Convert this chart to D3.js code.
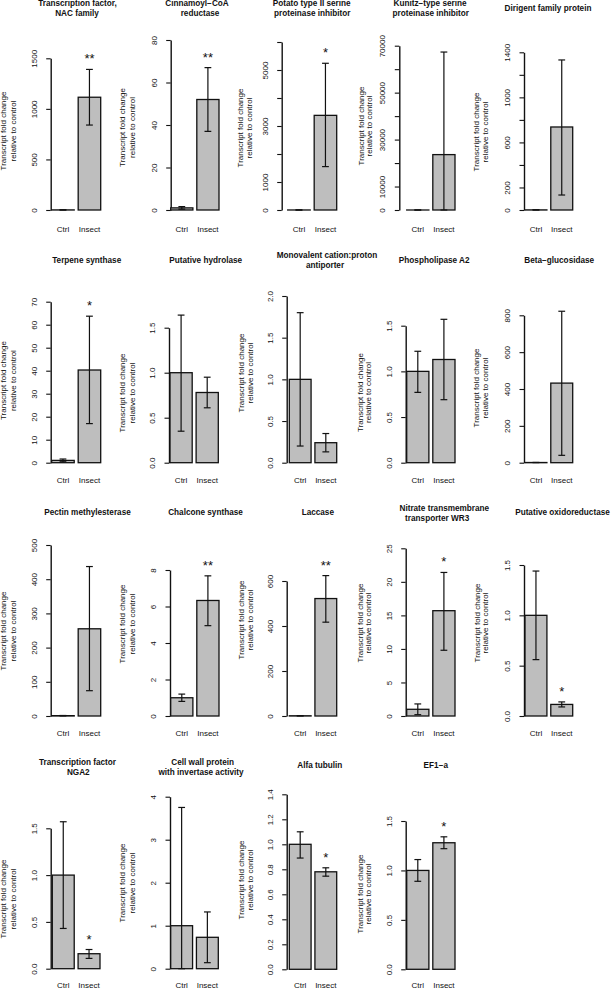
<!DOCTYPE html>
<html>
<head>
<meta charset="utf-8">
<script src="https://cdn.jsdelivr.net/npm/d3@7"></script>
<style>
  html, body { margin: 0; padding: 0; background: #fff; }
  svg { display: block; }
  text { font-family: "Liberation Sans", Arial, Helvetica, sans-serif; fill: #111; }
</style>
</head>
<body>
<svg id="chart" width="611" height="989"></svg>
<script>
// ---------------- DATA ----------------
const groups = ["Ctrl", "Insect"];
const titles = [
  ["Transcription factor,", "NAC family"],
  ["Cinnamoyl\u2212CoA", "reductase"],
  ["Potato type II serine", "proteinase inhibitor"],
  ["Kunitz\u2212type serine", "proteinase inhibitor"],
  ["Dirigent family protein"],
  ["Terpene synthase"],
  ["Putative hydrolase"],
  ["Monovalent cation:proton", "antiporter"],
  ["Phospholipase A2"],
  ["Beta\u2212glucosidase"],
  ["Pectin methylesterase"],
  ["Chalcone synthase"],
  ["Laccase"],
  ["Nitrate transmembrane", "transporter WR3"],
  ["Putative oxidoreductase"],
  ["Transcription factor", "NGA2"],
  ["Cell wall protein", "with invertase activity"],
  ["Alfa tubulin"],
  ["EF1\u2212a"]
];
const ctrlMean = [1, 1, 1, 1, 1, 1, 1, 1, 1, 1, 1, 1, 1, 1, 1, 1, 1, 1, 1];
const ctrlLow  = [0.5, 0.4, 0.5, 0.5, 0.5, 0.4, 0.35, 0.2, 0.77, 0.5, 0.5, 0.8, 0.5, 0.2, 0.56, 0.43, 0, 0.89, 0.89];
const ctrlHigh = [1.5, 1.6, 1.5, 1.5, 1.5, 1.6, 1.64, 1.8, 1.22, 1.5, 1.5, 1.2, 1.5, 1.8, 1.44, 1.57, 3.75, 1.1, 1.11];
const insMean  = [1115, 52, 3380, 23600, 737, 40.3, 0.78, 0.24, 1.13, 432, 255, 6.33, 522, 15.7, 0.115, 0.16, 0.73, 0.78, 1.28];
const insLow   = [840, 37, 1550, 0, 133, 17, 0.61, 0.13, 0.69, 40, 74, 4.95, 417, 9.8, 0.09, 0.11, 0.14, 0.745, 1.22];
const insHigh  = [1390, 67, 5240, 67300, 1332, 63.7, 0.95, 0.35, 1.57, 822, 437, 7.68, 624, 21.4, 0.14, 0.205, 1.32, 0.812, 1.34];
const signif   = ["**", "**", "*", "", "", "*", "", "", "", "", "", "**", "**", "*", "*", "*", "", "*", "*"];
const axisMax  = [1500, 80, 6000, 70000, 1400, 70, 1.5, 2.0, 1.5, 800, 500, 8, 600, 25, 1.5, 1.5, 4, 1.4, 1.5];
const axisStep = [500, 20, 1000, 10000, 200, 10, 0.5, 0.5, 0.5, 200, 100, 2, 200, 5, 0.5, 0.5, 1, 0.2, 0.5];
// tick labels that are printed (null = every tick labelled)
const printedTicks = [null, null, [0, 1000, 3000, 5000], [0, 10000, 30000, 50000, 70000],
  [0, 200, 600, 1000, 1400], null, null, null, null, null, null, null, null, null, null, null, null, null, null];
const yLabel = ["Transcript fold change", "relative to control"];

// ---------------- LAYOUT (pixel positions per panel) ----------------
const axisX    = [50.7, 170.7, 281.7, 399.3, 524, 50.7, 169, 286.7, 405.7, 524, 50.7, 170, 286.7, 405.7, 524, 50.7, 170, 286.7, 405.7];
const baseY    = [210, 210, 210, 210, 210, 462.7, 462.7, 462.7, 462.7, 462.7, 716, 716, 716, 716, 716, 968.7, 968.7, 969.3, 969.3];
const topY     = [58.3, 40, 42, 45.7, 52.3, 301.7, 327.7, 296, 325.7, 315.3, 545, 570, 581, 548.3, 565, 828.3, 796.7, 794.3, 821];
const barLeft  = [51.7, 170.7, 287.7, 406.7, 525, 51.7, 170, 289.3, 406.7, 525, 51.7, 170.7, 289.3, 406.7, 525, 52.3, 170.7, 289.3, 406.7];
const barRight = [100.7, 219, 336.7, 455, 572.7, 100.7, 218.3, 336.7, 455, 572.7, 100.7, 219, 336.7, 455, 572.7, 100, 218.3, 336.7, 455];
const catY     = [231.5, 231.5, 231.5, 231.5, 231.5, 483, 483, 483, 483, 483, 736.2, 736.2, 736.2, 736.2, 736.2, 987.5, 987.5, 987.5, 987.5];
const ylabX    = [3.3, 121.7, 240.5, 360.7, 476, 3.3, 121.7, 241, 360, 476, 3.3, 121.7, 241, 360, 476.7, 3.3, 121.7, 241, 360];
const ylabGap  = [10, 10, 9, 8, 9, 10, 10, 9, 8.3, 9, 10, 10, 9, 8.3, 8.3, 10, 10, 9, 8.3];
const ylabY    = [131, 127.5, 128, 126, 132, 380.6, 393, 373, 392.5, 388, 631, 624, 620, 623, 623, 899, 883, 880, 894];
const titleX   = [[77.5, 77], [197, 200], [311.7, 312.3], [430, 430.8], [548], [86.7], [205.7], [327, 325], [434.2], [559.2],
                  [87.5], [205.5], [317.8], [444.3, 437.2], [562.5], [77.5, 78.3], [202.7, 201], [319.8], [435.8]];
const titleY   = [5.5, 5.5, 5.5, 5.5, 10.5, 262.5, 262.5, 257.5, 262.5, 262.5, 515.3, 515.3, 515.3, 510.7, 515.3, 765, 765, 768.3, 768.3];

// ---------------- DRAW ----------------
const svg = d3.select("#chart");
const barFill = "#bebebe";
const ink = "#111";

titles.forEach((t, i) => {
  const g = svg.append("g");
  const x = d3.scaleBand().domain(groups).range([barLeft[i], barRight[i]]).paddingInner(0.15).paddingOuter(0);
  const y = d3.scaleLinear().domain([0, axisMax[i]]).range([baseY[i], topY[i]]);

  const nT = Math.round(axisMax[i] / axisStep[i]);
  const tickVals = d3.range(nT + 1).map(k => +(k * axisStep[i]).toFixed(6));
  const fmt = axisStep[i] < 1 ? d3.format(".1f") : d3.format("d");
  const shown = printedTicks[i];

  const axis = d3.axisLeft(y)
    .tickValues(tickVals)
    .tickSize(4.5)
    .tickSizeOuter(0)
    .tickFormat(v => (shown === null || shown.some(s => Math.abs(s - v) < 1e-9)) ? fmt(v) : "");

  const ag = g.append("g").attr("transform", `translate(${axisX[i]},0)`).call(axis);
  ag.select(".domain").attr("stroke", ink).attr("stroke-width", 1.4);
  ag.selectAll(".tick line").attr("stroke", ink).attr("stroke-width", 1.1);
  ag.selectAll(".tick text")
    .attr("x", null).attr("y", null).attr("dy", "0.36em")
    .attr("text-anchor", "middle")
    .attr("transform", "translate(-17,0) rotate(-90)")
    .attr("font-size", 8)
    .attr("font-family", "Liberation Sans, Arial, sans-serif")
    .attr("fill", ink);

  const means = [ctrlMean[i], insMean[i]];
  const lows = [ctrlLow[i], insLow[i]];
  const highs = [ctrlHigh[i], insHigh[i]];

  // bars
  g.selectAll("rect.bar").data(groups).join("rect")
    .attr("class", "bar")
    .attr("x", d => x(d))
    .attr("width", x.bandwidth())
    .attr("y", (d, k) => y(means[k]))
    .attr("height", (d, k) => Math.max(0, y(0) - y(means[k])))
    .attr("fill", barFill)
    .attr("stroke", ink)
    .attr("stroke-width", 1.3);

  // error bars
  const capHalf = 3.4;
  groups.forEach((d, k) => {
    const cx = x(d) + x.bandwidth() / 2;
    const yl = y(Math.max(0, lows[k])), yh = y(highs[k]);
    g.append("line").attr("x1", cx).attr("x2", cx).attr("y1", yl).attr("y2", yh)
      .attr("stroke", ink).attr("stroke-width", 1.2);
    [yl, yh].forEach(yy => {
      g.append("line").attr("x1", cx - capHalf).attr("x2", cx + capHalf).attr("y1", yy).attr("y2", yy)
        .attr("stroke", ink).attr("stroke-width", 1.2);
    });
  });

  // significance stars
  if (signif[i]) {
    const cx = x("Insect") + x.bandwidth() / 2;
    g.append("text").attr("x", cx).attr("y", y(insHigh[i]) - 6)
      .attr("text-anchor", "middle").attr("font-size", 13).text(signif[i]);
  }

  // category labels
  g.selectAll("text.cat").data(groups).join("text")
    .attr("class", "cat")
    .attr("x", d => x(d) + x.bandwidth() / 2)
    .attr("y", catY[i])
    .attr("text-anchor", "middle")
    .attr("font-size", 8)
    .text(d => d);

  // y label (two lines, rotated)
  yLabel.forEach((line, k) => {
    g.append("text")
      .attr("transform", `translate(${ylabX[i] + k * ylabGap[i]},${ylabY[i]}) rotate(-90)`)
      .attr("dy", "0.35em")
      .attr("text-anchor", "middle")
      .attr("font-size", 8)
      .text(line);
  });

  // title
  t.forEach((line, k) => {
    g.append("text")
      .attr("x", titleX[i][k])
      .attr("y", titleY[i] + k * 10.3)
      .attr("text-anchor", "middle")
      .attr("font-size", 8.2)
      .attr("font-weight", "bold")
      .text(line);
  });
});
</script>
</body>
</html>
